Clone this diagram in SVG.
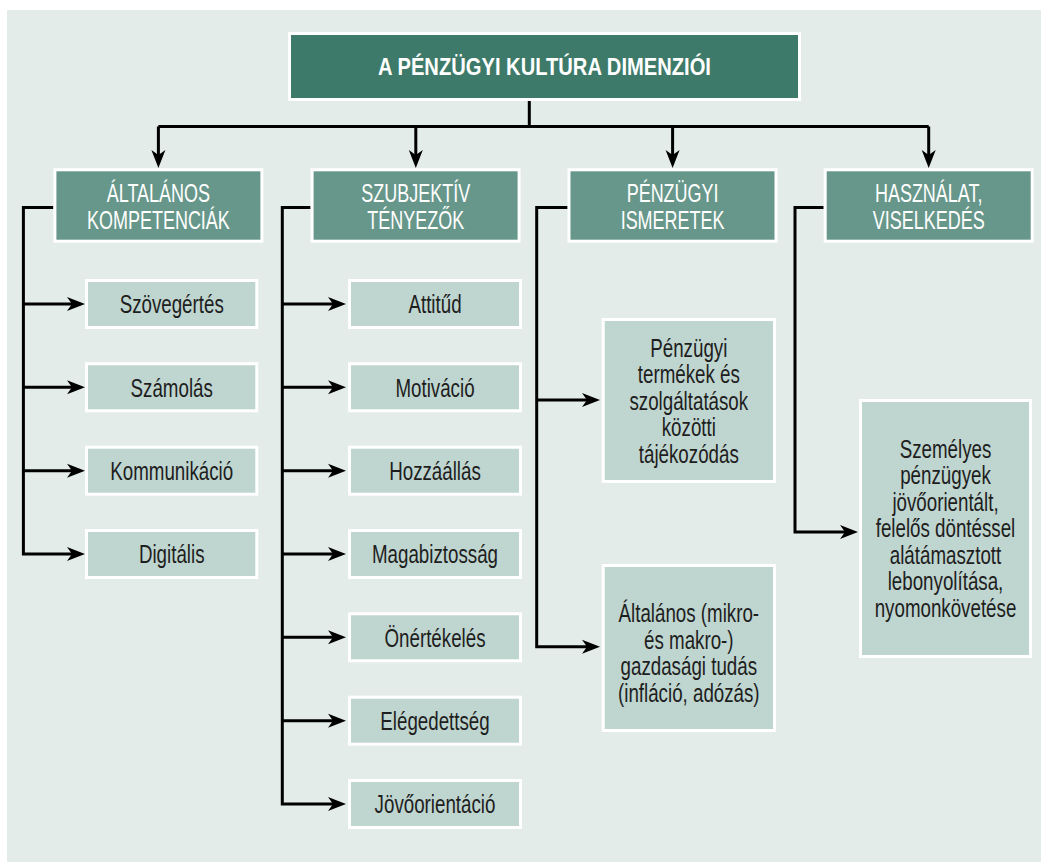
<svg xmlns="http://www.w3.org/2000/svg" width="1041" height="862" viewBox="0 0 1041 862">
<style>
.bg{fill:#e3ece9}
.title rect{fill:#3e7a69;stroke:#fff;stroke-width:3}
.cat rect{fill:#67978a;stroke:#fff;stroke-width:3}
.item rect{fill:#bfd5cf;stroke:#fff;stroke-width:3}
text{font-family:"Liberation Sans",Arial,sans-serif;font-size:25px;text-anchor:middle}
.title text{fill:#fff;font-weight:bold;font-size:24px}
.cat text{fill:#fff}
.item text{fill:#1e1e1e}
.conn path{fill:none;stroke:#000;stroke-width:3}
</style>
<defs>
<marker id="ah" markerUnits="userSpaceOnUse" markerWidth="20" markerHeight="16" viewBox="-13 -8 20 16" refX="0" refY="0" orient="auto">
<path d="M6,0 L-12,-7 L-7,0 L-12,7 Z" fill="#000"/>
</marker>
</defs>
<rect class="bg" x="7" y="10" width="1034" height="852"/>

<g class="conn">
<path d="M529.3,100 V126.5 M158.4,126.5 H928.7"/>
<path d="M158.4,126.5 V162" marker-end="url(#ah)"/>
<path d="M415.8,126.5 V162" marker-end="url(#ah)"/>
<path d="M672.6,126.5 V162" marker-end="url(#ah)"/>
<path d="M928.7,126.5 V162" marker-end="url(#ah)"/>
<path d="M53.4,207.5 H23.4 V554 H79" marker-end="url(#ah)"/>
<path d="M23.4,304 H79" marker-end="url(#ah)"/>
<path d="M23.4,387.3 H79" marker-end="url(#ah)"/>
<path d="M23.4,470.7 H79" marker-end="url(#ah)"/>
<path d="M310.6,207.5 H282.3 V804 H340" marker-end="url(#ah)"/>
<path d="M282.3,304 H340" marker-end="url(#ah)"/>
<path d="M282.3,387.3 H340" marker-end="url(#ah)"/>
<path d="M282.3,470.7 H340" marker-end="url(#ah)"/>
<path d="M282.3,554 H340" marker-end="url(#ah)"/>
<path d="M282.3,637.3 H340" marker-end="url(#ah)"/>
<path d="M282.3,720.7 H340" marker-end="url(#ah)"/>
<path d="M567.7,207.5 H536.7 V646.7 H594" marker-end="url(#ah)"/>
<path d="M536.7,400 H594" marker-end="url(#ah)"/>
<path d="M823.7,207.5 H795 V532 H852" marker-end="url(#ah)"/>
</g>

<g id="title" class="title">
<rect x="289.5" y="33.5" width="510" height="66"/>
<text transform="translate(544.5 0) scale(0.84 1)" x="0" y="75">A PÉNZÜGYI KULTÚRA DIMENZIÓI</text>
</g>

<g id="cat1" class="cat">
<rect x="54.9" y="169.8" width="207" height="71.4"/>
<text transform="translate(158.4 0) scale(0.72 1)"><tspan x="0" y="202">ÁLTALÁNOS</tspan><tspan x="0" y="229">KOMPETENCIÁK</tspan></text>
</g>
<g id="cat2" class="cat">
<rect x="312.1" y="169.8" width="207" height="71.4"/>
<text transform="translate(415.8 0) scale(0.72 1)"><tspan x="0" y="202">SZUBJEKTÍV</tspan><tspan x="0" y="229">TÉNYEZŐK</tspan></text>
</g>
<g id="cat3" class="cat">
<rect x="569" y="169.8" width="207" height="71.4"/>
<text transform="translate(672.6 0) scale(0.72 1)"><tspan x="0" y="202">PÉNZÜGYI</tspan><tspan x="0" y="229">ISMERETEK</tspan></text>
</g>
<g id="cat4" class="cat">
<rect x="825.2" y="169.8" width="207" height="71.4"/>
<text transform="translate(928.7 0) scale(0.72 1)"><tspan x="0" y="202">HASZNÁLAT,</tspan><tspan x="0" y="229">VISELKEDÉS</tspan></text>
</g>

<g id="c1-1" class="item"><rect x="86.5" y="280.5" width="170.3" height="47"/><text transform="translate(171.7 0) scale(0.75 1)" x="0" y="313.5">Szövegértés</text></g>
<g id="c1-2" class="item"><rect x="86.5" y="363.8" width="170.3" height="47"/><text transform="translate(171.7 0) scale(0.75 1)" x="0" y="396.8">Számolás</text></g>
<g id="c1-3" class="item"><rect x="86.5" y="447.2" width="170.3" height="47"/><text transform="translate(171.7 0) scale(0.75 1)" x="0" y="480.2">Kommunikáció</text></g>
<g id="c1-4" class="item"><rect x="86.5" y="530.5" width="170.3" height="47"/><text transform="translate(171.7 0) scale(0.75 1)" x="0" y="563.5">Digitális</text></g>

<g id="c2-1" class="item"><rect x="349.5" y="280.5" width="171" height="47"/><text transform="translate(435 0) scale(0.75 1)" x="0" y="313.5">Attitűd</text></g>
<g id="c2-2" class="item"><rect x="349.5" y="363.8" width="171" height="47"/><text transform="translate(435 0) scale(0.75 1)" x="0" y="396.8">Motiváció</text></g>
<g id="c2-3" class="item"><rect x="349.5" y="447.2" width="171" height="47"/><text transform="translate(435 0) scale(0.75 1)" x="0" y="480.2">Hozzáállás</text></g>
<g id="c2-4" class="item"><rect x="349.5" y="530.5" width="171" height="47"/><text transform="translate(435 0) scale(0.75 1)" x="0" y="563.5">Magabiztosság</text></g>
<g id="c2-5" class="item"><rect x="349.5" y="613.8" width="171" height="47"/><text transform="translate(435 0) scale(0.75 1)" x="0" y="646.8">Önértékelés</text></g>
<g id="c2-6" class="item"><rect x="349.5" y="697.2" width="171" height="47"/><text transform="translate(435 0) scale(0.75 1)" x="0" y="730.2">Elégedettség</text></g>
<g id="c2-7" class="item"><rect x="349.5" y="780.5" width="171" height="47"/><text transform="translate(435 0) scale(0.75 1)" x="0" y="813.5">Jövőorientáció</text></g>

<g id="c3-1" class="item"><rect x="603.2" y="319.5" width="171.3" height="162"/>
<text transform="translate(688.8 0) scale(0.75 1)"><tspan x="0" y="357">Pénzügyi</tspan><tspan x="0" y="383.5">termékek és</tspan><tspan x="0" y="410">szolgáltatások</tspan><tspan x="0" y="436.5">közötti</tspan><tspan x="0" y="463">tájékozódás</tspan></text></g>
<g id="c3-2" class="item"><rect x="603.2" y="565.5" width="171.3" height="165"/>
<text transform="translate(688.8 0) scale(0.75 1)"><tspan x="0" y="622.5">Általános (mikro-</tspan><tspan x="0" y="649">és makro-)</tspan><tspan x="0" y="675.5">gazdasági tudás</tspan><tspan x="0" y="702">(infláció, adózás)</tspan></text></g>

<g id="c4-1" class="item"><rect x="860.5" y="400.5" width="170" height="256"/>
<text transform="translate(945.5 0) scale(0.75 1)"><tspan x="0" y="458">Személyes</tspan><tspan x="0" y="484.5">pénzügyek</tspan><tspan x="0" y="511">jövőorientált,</tspan><tspan x="0" y="537.5">felelős döntéssel</tspan><tspan x="0" y="564">alátámasztott</tspan><tspan x="0" y="590.5">lebonyolítása,</tspan><tspan x="0" y="617">nyomonkövetése</tspan></text></g>
</svg>
